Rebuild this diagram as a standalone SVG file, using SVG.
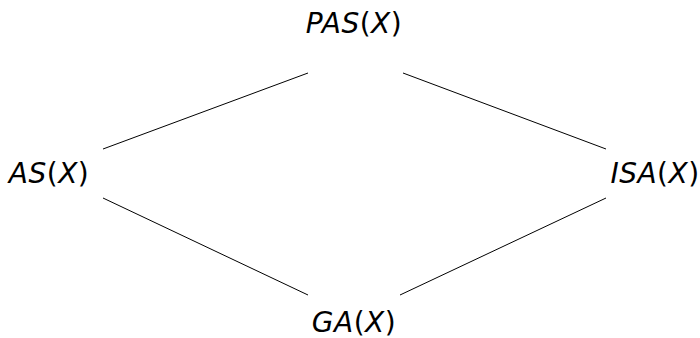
<svg xmlns="http://www.w3.org/2000/svg" width="700" height="338" viewBox="0 0 700 338">
<style>
text{font-family:"DejaVu Sans",sans-serif;font-size:28px;fill:#000;text-anchor:middle;letter-spacing:0.5px}
.i{font-style:italic}
line{stroke:#000;stroke-width:1}
</style>
<rect width="700" height="338" fill="#fff"/>
<g id="connectors">
<line x1="308" y1="73" x2="103" y2="149"/>
<line x1="403" y1="73" x2="606" y2="149"/>
<line x1="103" y1="198" x2="308" y2="295"/>
<line x1="606" y1="198" x2="400" y2="295"/>
</g>
<g id="PAS"><text x="354" y="33"><tspan class="i">PAS</tspan>(<tspan class="i">X</tspan>)</text></g>
<g id="AS"><text x="49" y="183"><tspan class="i">AS</tspan>(<tspan class="i">X</tspan>)</text></g>
<g id="ISA"><text x="655" y="183"><tspan class="i">ISA</tspan>(<tspan class="i">X</tspan>)</text></g>
<g id="GA"><text x="354" y="332"><tspan class="i">GA</tspan>(<tspan class="i">X</tspan>)</text></g>
</svg>
